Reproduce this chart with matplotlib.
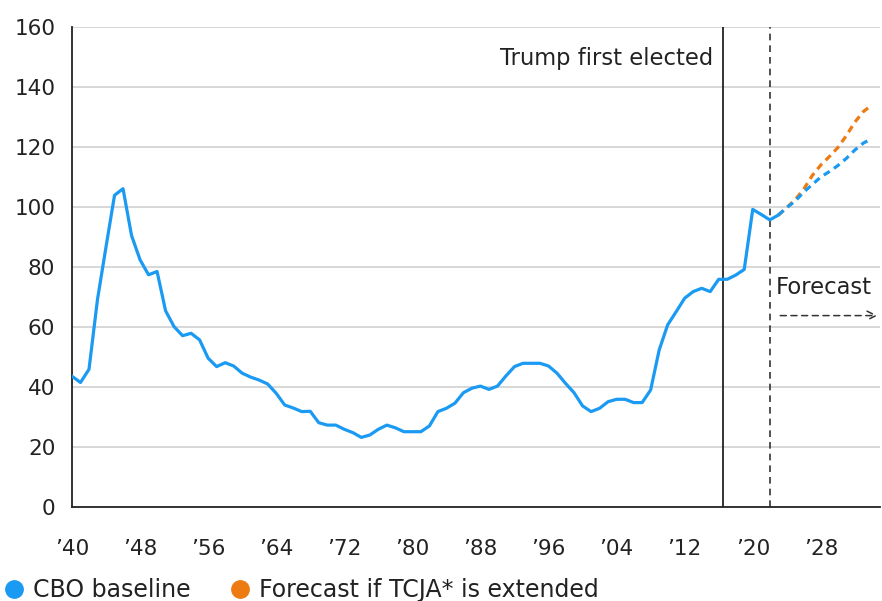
import numpy as np
import matplotlib.pyplot as plt
from matplotlib.lines import Line2D

# debt held by the public, % of GDP
years = list(range(1940, 2024))
debt = [43.6, 41.5, 45.9, 69.2, 86.7, 103.9, 106.1, 90.5, 82.4, 77.4,
        78.5, 65.4, 60.1, 57.1, 57.9, 55.7, 49.6, 46.8, 48.1, 47.0,
        44.6, 43.3, 42.3, 41.0, 37.9, 34.0, 33.0, 31.8, 31.9, 28.1,
        27.3, 27.3, 25.9, 24.8, 23.2, 24.0, 25.9, 27.3, 26.4, 25.1,
        25.1, 25.1, 27.0, 31.8, 32.9, 34.6, 38.1, 39.6, 40.3, 39.2,
        40.3, 43.7, 46.8, 47.9, 47.9, 47.9, 47.0, 44.6, 41.2, 38.1,
        33.7, 31.8, 32.9, 35.1, 35.9, 35.9, 34.8, 34.8, 39.0, 52.3,
        60.7, 65.1, 69.6, 71.8, 72.9, 71.8, 75.9, 75.9, 77.3, 79.2,
        99.2, 97.5, 95.7, 97.3]

fc_years = list(range(2023, 2035))
cbo_baseline = [97.3, 99.8, 102.0, 105.0, 107.5, 110.0, 111.8, 113.8, 116.2, 119.0, 121.3, 122.8]
tcja_ext = [97.3, 99.8, 102.5, 106.0, 110.5, 114.0, 116.8, 119.8, 123.8, 128.3, 131.8, 134.0]

tick_years = list(range(1940, 2030, 8))
tick_labels = ['\u2019' + str(y)[2:] for y in tick_years]

trump_elected = 2016.5
forecast_start = 2022

BLUE = '#1a9af2'
ORANGE = '#ee7a12'
TEXT = '#222222'

plt.rcParams['font.family'] = ['DejaVu Sans']

fig = plt.figure(figsize=(8.82, 6.01), dpi=100)
ax = fig.add_axes([0.0816, 0.1564, 0.9161, 0.7987])

for v in range(20, 161, 20):
    ax.axhline(v, color='#d4d4d4', lw=1.3, zorder=0)

ax.plot(years, debt, color=BLUE, lw=2.3, solid_joinstyle='round', zorder=3)
ax.plot(fc_years, tcja_ext, color=ORANGE, lw=2.3, ls=(0, (2.2, 1.6)), zorder=3)
ax.plot(fc_years, cbo_baseline, color=BLUE, lw=2.3, ls=(0, (2.2, 1.6)), zorder=4)

ax.axvline(trump_elected, color='#111111', lw=1.2, zorder=2)
ax.axvline(forecast_start, color='#333333', lw=1.2, ls=(0, (4, 3)), zorder=2)

ax.text(trump_elected - 1.15, 149.5, 'Trump first elected', ha='right', va='center',
        fontsize=16.3, color=TEXT)
ax.text(forecast_start + 0.75, 73.3, 'Forecast', ha='left', va='center',
        fontsize=16.3, color=TEXT)
ax.annotate('', xy=(2035, 63.8), xytext=(2022.9, 63.8),
            arrowprops=dict(arrowstyle='->', color='#333333', lw=1.1,
                            ls=(0, (4, 3)), mutation_scale=16))

ax.set_xlim(1940, 2034.95)
ax.set_ylim(0, 160)
ax.set_yticks(range(0, 161, 20))
ax.set_xticks(tick_years)
ax.set_xticklabels(tick_labels)
ax.tick_params(length=0, labelsize=15.5, colors=TEXT)
ax.tick_params(axis='y', pad=12)
ax.tick_params(axis='x', pad=23)

for s in ['top', 'right']:
    ax.spines[s].set_visible(False)
for s in ['left', 'bottom']:
    ax.spines[s].set_color('#222222')
    ax.spines[s].set_linewidth(1.3)

handles = [Line2D([], [], ls='none', marker='o', ms=12.5, color=BLUE),
           Line2D([], [], ls='none', marker='o', ms=12.5, color=ORANGE)]
fig.legend(handles, ['CBO baseline', 'Forecast if TCJA* is extended'],
           loc='center left', bbox_to_anchor=(0.0, 0.018), ncol=2, frameon=False,
           fontsize=17, handletextpad=0.2, columnspacing=1.5, handlelength=1.2,
           borderpad=0, borderaxespad=0, labelcolor=TEXT)

fig.savefig('out.png', dpi=100)
